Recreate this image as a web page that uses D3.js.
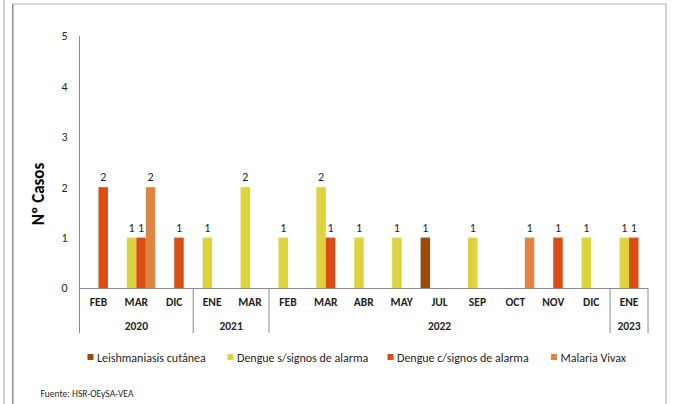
<!DOCTYPE html>
<html><head><meta charset="utf-8">
<script src="https://cdn.jsdelivr.net/npm/d3@7"></script>
<style>
html,body{margin:0;padding:0;background:#fff;}
svg{display:block;}
text{font-family:Carlito,'Liberation Sans Narrow','Arial Narrow',sans-serif;}
</style></head>
<body>
<svg id="chart" width="673" height="404"></svg>
<script>
const months = ["FEB","MAR","DIC","ENE","MAR","FEB","MAR","ABR","MAY","JUL","SEP","OCT","NOV","DIC","ENE"];
const years = ["2020","2021","2022","2023"];
const yearSpans = [3,2,9,1];
const seriesNames = ["Leishmaniasis cutánea","Dengue s/signos de alarma","Dengue c/signos de alarma","Malaria Vivax"];
const seriesColors = ["#9a4a0b","#ded33c","#db4d12","#de8544"];
const leish   = [null,null,null,null,null,null,null,null,null,1,null,null,null,null,null];
const dengueS = [null,1,null,1,2,1,2,1,1,null,1,null,null,1,1];
const dengueC = [2,1,1,null,null,null,1,null,null,null,null,null,1,null,1];
const malaria = [null,2,null,null,null,null,null,null,null,null,null,1,null,null,null];
const yTicks = [0,1,2,3,4,5];

const series = [leish, dengueS, dengueC, malaria];
const svg = d3.select("#chart");
const axisColor = "#8c8c8c";
const textColor = "#1f1f1f";

// page/frame
svg.append("rect").attr("x",3).attr("y",0).attr("width",2).attr("height",404).attr("fill","#cfcfcf");
svg.append("line").attr("x1",12.5).attr("x2",666).attr("y1",4).attr("y2",4).attr("stroke","#b4b4b4").attr("stroke-width",1.2);
svg.append("line").attr("x1",12.8).attr("x2",12.8).attr("y1",4).attr("y2",404).attr("stroke","#8a8a8a").attr("stroke-width",1.4);
svg.append("line").attr("x1",666).attr("x2",666).attr("y1",4).attr("y2",404).attr("stroke","#b4b4b4").attr("stroke-width",1.2);

const x0 = d3.scaleBand().domain(d3.range(months.length)).range([79.5,648]).padding(0);
const x1 = d3.scaleBand().domain(d3.range(series.length)).range([0,x0.bandwidth()]).padding(0);
const y = d3.scaleLinear().domain([0,5]).range([288,36]);

// y axis
const yAxis = d3.axisLeft(y).tickValues(yTicks).tickSize(0).tickPadding(12).tickFormat(d3.format("d"));
const yg = svg.append("g").attr("transform","translate(79.5,0)").call(yAxis);
yg.select(".domain").remove();
yg.selectAll("text").attr("font-size",12).attr("fill",textColor).style("font-family","Carlito,'Liberation Sans Narrow',sans-serif");
svg.append("line").attr("x1",79.5).attr("x2",79.5).attr("y1",36).attr("y2",333).attr("stroke",axisColor).attr("stroke-width",1);

// bars
series.forEach((vals,si)=>{
  svg.append("g").selectAll("rect").data(vals.map((v,i)=>({v,i})).filter(d=>d.v!=null)).join("rect")
    .attr("x",d=>x0(d.i)+x1(si))
    .attr("width",x1.bandwidth())
    .attr("y",d=>y(d.v))
    .attr("height",d=>y(0)-y(d.v))
    .attr("fill",seriesColors[si]);
  svg.append("g").selectAll("text").data(vals.map((v,i)=>({v,i})).filter(d=>d.v!=null)).join("text")
    .attr("x",d=>x0(d.i)+x1(si)+x1.bandwidth()/2)
    .attr("y",d=>y(d.v)-6)
    .attr("text-anchor","middle")
    .attr("font-size",12)
    .attr("fill",textColor)
    .text(d=>d.v);
});

// x axis
const xAxis = d3.axisBottom(x0).tickSize(0).tickPadding(10).tickFormat(i=>months[i]);
const xg = svg.append("g").attr("transform","translate(0,288)").call(xAxis);
xg.select(".domain").attr("stroke",axisColor);
xg.selectAll("text").attr("font-size",11.5).attr("font-weight","bold").attr("fill",textColor).style("font-family","Carlito,'Liberation Sans Narrow',sans-serif");

// year groups
let start = 0;
const ends = [];
years.forEach((yr,k)=>{
  const s = start, e = start + yearSpans[k];
  const xs = x0(s), xe = x0(e-1)+x0.bandwidth();
  svg.append("text").attr("x",(xs+xe)/2).attr("y",330).attr("text-anchor","middle")
    .attr("font-size",11.5).attr("font-weight","bold").attr("fill",textColor).text(yr);
  ends.push(xe);
  start = e;
});
ends.forEach(xe=>{
  svg.append("line").attr("x1",xe).attr("x2",xe).attr("y1",288).attr("y2",333).attr("stroke",axisColor).attr("stroke-width",1);
});

// y title
svg.append("text").attr("transform","translate(44,194) rotate(-90)").attr("text-anchor","middle")
  .attr("font-size",17).attr("font-weight","bold").attr("fill","#000").text("Nº Casos");

// legend
const legX = [87.5,227.5,387.5,551];
seriesNames.forEach((n,i)=>{
  svg.append("rect").attr("x",legX[i]).attr("y",354).attr("width",6).attr("height",6).attr("fill",seriesColors[i]);
  svg.append("text").attr("x",legX[i]+9.5).attr("y",361.5).attr("font-size",12).attr("fill",textColor).text(n);
});

// source
svg.append("text").attr("x",40.5).attr("y",397).attr("font-size",9.5).attr("fill",textColor).text("Fuente: HSR-OEySA-VEA");
</script>
</body></html>
